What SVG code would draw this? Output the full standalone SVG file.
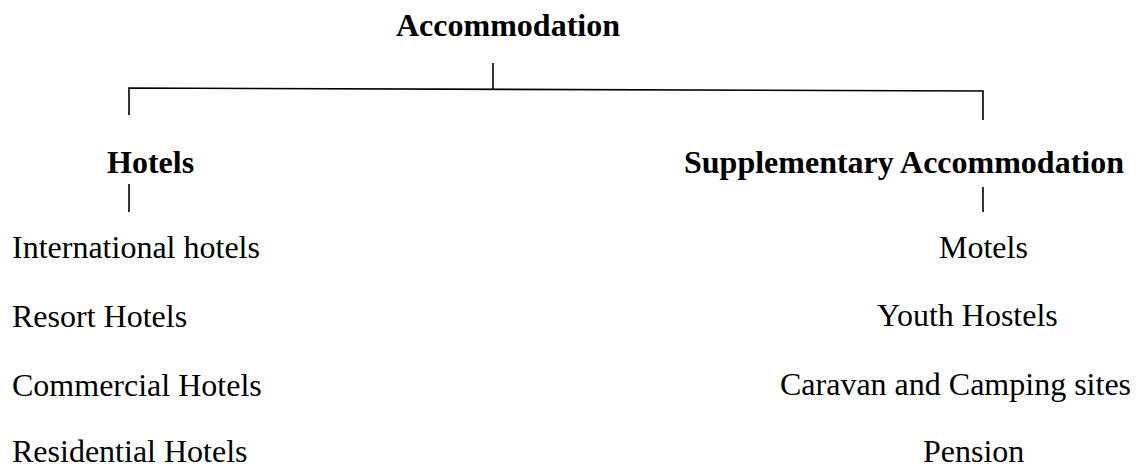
<svg xmlns="http://www.w3.org/2000/svg" width="1138" height="468" viewBox="0 0 1138 468">
<style>
.t{font-family:"Liberation Serif","Times New Roman",serif;font-size:32px;fill:#000}
.b{font-weight:bold}
.c line,.c polyline{stroke:#000;stroke-width:1.6;fill:none}
</style>
<rect width="1138" height="468" fill="#fff"/>
<g class="c" id="connectors">
<line x1="493" y1="63" x2="493" y2="89"/>
<polyline points="129,115 129,88 983,91 983,120"/>
<line x1="129" y1="184" x2="129" y2="212"/>
<line x1="983" y1="187" x2="983" y2="212"/>
</g>
<g id="root"><text class="t b" x="396" y="36">Accommodation</text></g>
<g id="hotels"><text class="t b" x="107" y="173">Hotels</text></g>
<g id="supplementary"><text class="t b" x="684" y="173">Supplementary Accommodation</text></g>
<g id="hotels-list">
<text class="t" x="12" y="258">International hotels</text>
<text class="t" x="12" y="327">Resort Hotels</text>
<text class="t" x="12" y="396">Commercial Hotels</text>
<text class="t" x="12" y="462">Residential Hotels</text>
</g>
<g id="supplementary-list">
<text class="t" x="939" y="258">Motels</text>
<text class="t" x="877" y="326">Youth Hostels</text>
<text class="t" x="780" y="395">Caravan and Camping sites</text>
<text class="t" x="923" y="462">Pension</text>
</g>
</svg>
